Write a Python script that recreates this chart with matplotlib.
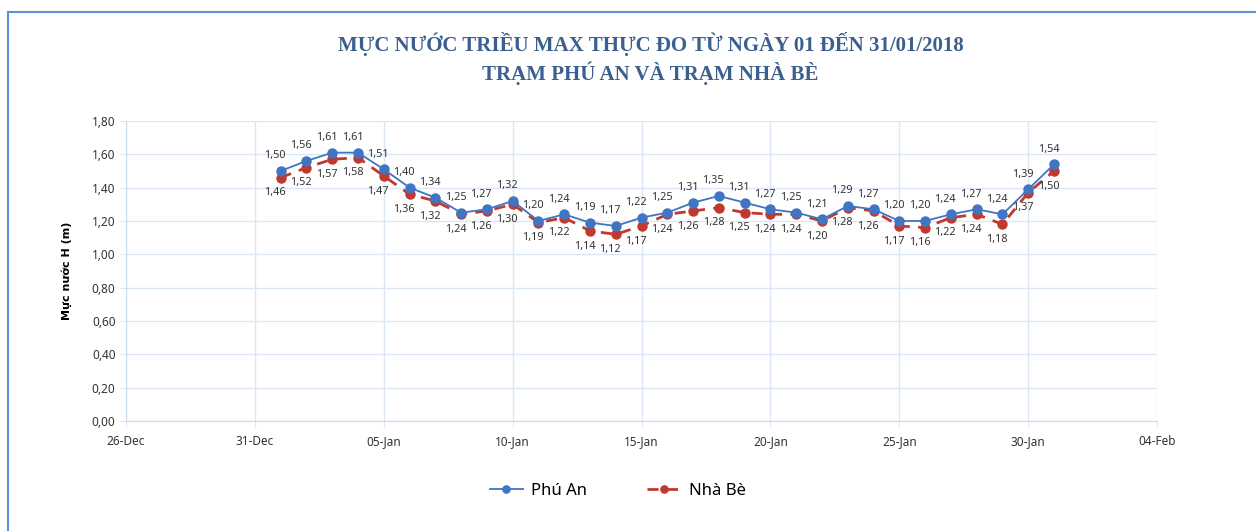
import numpy as np
import pandas as pd
import matplotlib
matplotlib.use("Agg")
import matplotlib.pyplot as plt
import matplotlib.dates as mdates
from matplotlib.lines import Line2D

# Data: max tide level, 01-31/01/2018
dates = pd.date_range("2018-01-01", "2018-01-31", freq="D")
phu_an = [1.50, 1.56, 1.61, 1.61, 1.51, 1.40, 1.34, 1.25, 1.27, 1.32,
          1.20, 1.24, 1.19, 1.17, 1.22, 1.25, 1.31, 1.35, 1.31, 1.27,
          1.25, 1.21, 1.29, 1.27, 1.20, 1.20, 1.24, 1.27, 1.24, 1.39, 1.54]
nha_be = [1.46, 1.52, 1.57, 1.58, 1.47, 1.36, 1.32, 1.24, 1.26, 1.30,
          1.19, 1.22, 1.14, 1.12, 1.17, 1.24, 1.26, 1.28, 1.25, 1.24,
          1.24, 1.20, 1.28, 1.26, 1.17, 1.16, 1.22, 1.24, 1.18, 1.37, 1.50]
y_ticks = [0.0, 0.2, 0.4, 0.6, 0.8, 1.0, 1.2, 1.4, 1.6, 1.8]

blue = "#3F75C2"
red = "#C0392F"
grid_col = "#DCE7F5"

plt.rcParams["font.family"] = ["Noto Sans", "DejaVu Sans"]

fig = plt.figure(figsize=(12.56, 5.31), dpi=100)
ax = fig.add_axes([0.1003, 0.2072, 0.821, 0.565])

ax.plot(dates, phu_an, "-o", color=blue, lw=1.3, ms=6.5, label="Phú An", zorder=4)
ax.plot(dates, nha_be, "--o", color=red, lw=2.0, ms=6.5, dashes=(4, 3),
        label="Nhà Bè", zorder=3)

fmt = lambda v: f"{v:.2f}".replace(".", ",")
for d, v in zip(dates, phu_an):
    ax.annotate(fmt(v), (d, v), xytext=(-4, 7), textcoords="offset points",
                ha="center", va="bottom", fontsize=7.8, color="#333333")
for d, v in zip(dates, nha_be):
    ax.annotate(fmt(v), (d, v), xytext=(-4, -7), textcoords="offset points",
                ha="center", va="top", fontsize=7.8, color="#333333")

ax.set_xlim(pd.Timestamp("2017-12-26"), pd.Timestamp("2018-02-04"))
ticks = pd.date_range("2017-12-26", "2018-02-04", freq="5D")
ax.set_xticks(ticks)
ax.xaxis.set_major_formatter(mdates.DateFormatter("%d-%b"))
ax.set_ylim(0, 1.8)
ax.set_yticks(y_ticks)
ax.set_yticklabels([fmt(v) for v in y_ticks])
ax.tick_params(labelsize=8.5, colors="#333333", length=4, width=0.8)
ax.tick_params(axis="both", color=grid_col)
ax.tick_params(axis="x", pad=6)

ax.grid(True, color=grid_col, lw=1)
for s in ["top", "right"]:
    ax.spines[s].set_visible(False)
for s in ["left", "bottom"]:
    ax.spines[s].set_color("#C9DAEF")

ax.set_ylabel("Mực nước H (m)", fontsize=8, fontweight="bold",
              family=["DejaVu Sans"], labelpad=14)

fig.text(0.518, 0.889, "MỰC NƯỚC TRIỀU MAX THỰC ĐO TỪ NGÀY 01 ĐẾN 31/01/2018\nTRẠM PHÚ AN VÀ TRẠM NHÀ BÈ",
         ha="center", va="center", fontsize=15, fontweight="bold",
         family="Liberation Serif", color="#3B5F8E", linespacing=1.3)

fig.legend(loc="center", bbox_to_anchor=(0.492, 0.075), ncol=2, frameon=False,
           fontsize=12, handlelength=2.0, handletextpad=0.5, columnspacing=3.6,
           markerscale=0.8)

# chart border
fig.add_artist(Line2D([8 / 1256, 1], [1 - 12 / 531] * 2, color="#5B93DB", lw=1.5,
                      transform=fig.transFigure))
fig.add_artist(Line2D([8 / 1256] * 2, [0, 1 - 12 / 531], color="#5B93DB", lw=1.5,
                      transform=fig.transFigure))

fig.savefig("out.png", dpi=100)
